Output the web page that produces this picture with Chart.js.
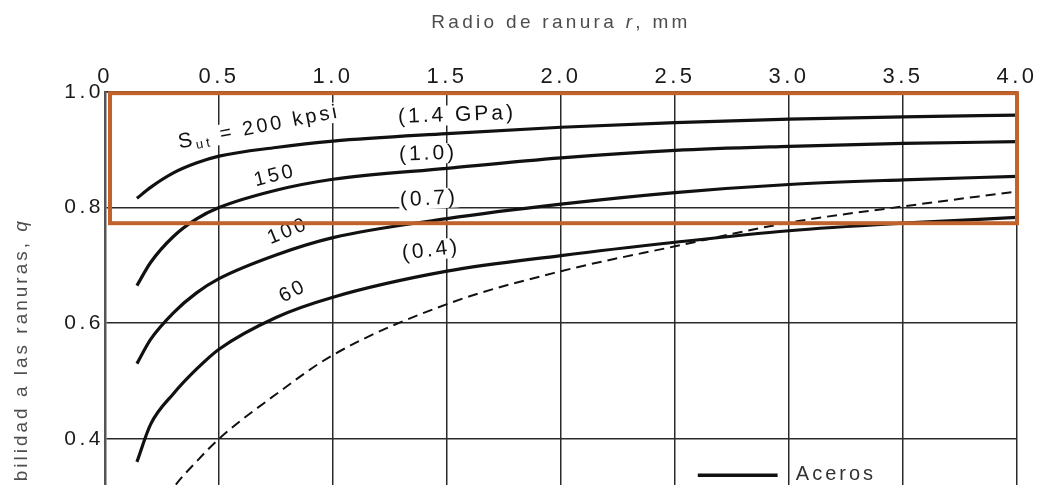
<!DOCTYPE html>
<html lang="es">
<head>
<meta charset="utf-8">
<title>Sensibilidad a las ranuras</title>
<script src="https://cdn.jsdelivr.net/npm/chart.js@4.4.1/dist/chart.umd.min.js"></script>
<style>
  html, body { margin: 0; padding: 0; background: #fff; }
  /* la figura original está recortada por abajo */
  .frame { width: 1039px; height: 485px; overflow: hidden; }
  .chart-box { position: relative; width: 1039px; height: 690px; }
</style>
</head>
<body>
<div class="frame"><div class="chart-box"><canvas id="notchChart"></canvas></div></div>
<script>
// radio de ranura r, mm
const radios = [0.14, 0.2, 0.3, 0.4, 0.5, 0.75, 1.0, 1.5, 2.0, 2.5, 3.0, 3.5, 4.0];

// aceros: Sut = 200, 150, 100, 60 kpsi
const q200 = [0.816, 0.835, 0.860, 0.877, 0.889, 0.904, 0.915, 0.928, 0.939, 0.947, 0.953, 0.957, 0.960];
const q150 = [0.665, 0.705, 0.750, 0.780, 0.800, 0.830, 0.849, 0.868, 0.886, 0.899, 0.906, 0.911, 0.914];
const q100 = [0.530, 0.572, 0.618, 0.652, 0.677, 0.718, 0.748, 0.781, 0.806, 0.826, 0.840, 0.848, 0.854];
const q60 = [0.360, 0.425, 0.478, 0.520, 0.555, 0.610, 0.645, 0.690, 0.717, 0.740, 0.760, 0.773, 0.783];

// aleación de aluminio (discontinua)
const radiosAl = [0.2, 0.3, 0.4, 0.5, 0.75, 1.0, 1.5, 2.0, 2.5, 3.0, 3.5, 4.0];
const qAl = [0.25, 0.315, 0.36, 0.40, 0.477, 0.545, 0.633, 0.690, 0.733, 0.774, 0.802, 0.828];

// marcas de los ejes
const xTicks = [0, 0.5, 1.0, 1.5, 2.0, 2.5, 3.0, 3.5, 4.0];
const xTickLabels = ['0', '0.5', '1.0', '1.5', '2.0', '2.5', '3.0', '3.5', '4.0'];
const yTicks = [0, 0.2, 0.4, 0.6, 0.8, 1.0];
const yTickLabels = ['0', '0.2', '0.4', '0.6', '0.8', '1.0'];

// etiquetas sobre las curvas (posición en unidades de datos)
const curveLabels = [
    { r: 0.675, q: 0.939, angle: -11, parts: [['S', 21], ['ut', 13, 6], [' = 200 kpsi', 20]] },
    { r: 1.544, q: 0.960, angle: -2, parts: [['(1.4 GPa)', 21]] },
    { r: 0.746, q: 0.855, angle: -14, parts: [['150', 20]] },
    { r: 1.417, q: 0.893, angle: -2, parts: [['(1.0)', 21]] },
    { r: 0.803, q: 0.759, angle: -22, parts: [['100', 20]] },
    { r: 1.421, q: 0.815, angle: -3, parts: [['(0.7)', 21]] },
    { r: 0.825, q: 0.655, angle: -27, parts: [['60', 20]] },
    { r: 1.430, q: 0.726, angle: -7, parts: [['(0.4)', 21]] }
];

// recuadro naranja de resaltado
const highlight = { r0: 0.022, r1: 4.0, q0: 0.773, q1: 0.998 };

const FONT = '"Liberation Sans", Arial, sans-serif';
Chart.defaults.font.family = FONT;
Chart.defaults.color = '#1a1a1a';

const toPoints = (xs, ys) => xs.map((x, i) => ({ x: x, y: ys[i] }));

// texto con partes (subíndices, cursiva), centrado y rotado
function drawRich(ctx, parts, cx, cy, angle, opts) {
    ctx.save();
    ctx.translate(cx, cy);
    ctx.rotate(angle * Math.PI / 180);
    ctx.textBaseline = 'middle';
    ctx.textAlign = 'left';
    ctx.letterSpacing = opts.spacing + 'px';
    let total = 0;
    const widths = parts.map(p => {
        ctx.font = (p[3] || '') + ' ' + p[1] + 'px ' + FONT;
        const w = ctx.measureText(p[0]).width;
        total += w;
        return w;
    });
    if (opts.bg) {
        ctx.fillStyle = '#fff';
        ctx.fillRect(-total / 2 - 1, -10, total + 2, 20);
    } else {
        let x = -total / 2;
        ctx.fillStyle = opts.color;
        parts.forEach((p, i) => {
            ctx.font = (p[3] || '') + ' ' + p[1] + 'px ' + FONT;
            ctx.fillText(p[0], x, p[2] || 0);
            x += widths[i];
        });
    }
    ctx.restore();
}

const spacingPlugin = {
    id: 'spacing',
    beforeDraw(chart) { chart.ctx.letterSpacing = '3.5px'; }
};

const labelsPlugin = {
    id: 'curveLabels',
    beforeDatasetsDraw(chart) {
        const { ctx, scales } = chart;
        curveLabels.forEach(l => drawRich(ctx, l.parts, scales.x.getPixelForValue(l.r), scales.y.getPixelForValue(l.q), l.angle, { spacing: 3, bg: true }));
    },
    afterDatasetsDraw(chart) {
        const { ctx, scales } = chart;
        curveLabels.forEach(l => drawRich(ctx, l.parts, scales.x.getPixelForValue(l.r), scales.y.getPixelForValue(l.q), l.angle, { spacing: 3, color: '#111' }));
    }
};

const extrasPlugin = {
    id: 'extras',
    afterDraw(chart) {
        const { ctx, scales, chartArea } = chart;
        const x = scales.x, y = scales.y;

        // títulos de los ejes
        drawRich(ctx, [['Radio de ranura ', 19], ['r', 19, 0, 'italic'], [', mm', 19]],
            (chartArea.left + chartArea.right) / 2, 23, 0, { spacing: 3.3, color: '#4d4d4d' });
        drawRich(ctx, [['Sensibilidad a las ranuras, ', 19], ['q', 19, 0, 'italic']],
            22, (chartArea.top + chartArea.bottom) / 2, -90, { spacing: 3, color: '#4d4d4d' });

        // leyenda
        ctx.save();
        ctx.strokeStyle = '#111';
        ctx.lineWidth = 3.5;
        ctx.beginPath();
        ctx.moveTo(x.getPixelForValue(2.6), y.getPixelForValue(0.337));
        ctx.lineTo(x.getPixelForValue(2.95), y.getPixelForValue(0.337));
        ctx.stroke();
        ctx.restore();
        ctx.save();
        ctx.letterSpacing = '3px';
        ctx.font = '20px ' + FONT;
        ctx.fillStyle = '#333';
        ctx.textBaseline = 'middle';
        ctx.fillText('Aceros', x.getPixelForValue(3.03), y.getPixelForValue(0.339));
        ctx.restore();

        // recuadro naranja
        ctx.save();
        ctx.strokeStyle = '#C0622B';
        ctx.lineWidth = 4;
        const left = x.getPixelForValue(highlight.r0), right = x.getPixelForValue(highlight.r1);
        const top = y.getPixelForValue(highlight.q1), bottom = y.getPixelForValue(highlight.q0);
        ctx.strokeRect(left, top, right - left, bottom - top);
        ctx.restore();
    }
};

const steelStyle = { borderColor: '#111', borderWidth: 3.2, pointRadius: 0, fill: false, cubicInterpolationMode: 'monotone' };

new Chart(document.getElementById('notchChart'), {
    type: 'line',
    data: {
        datasets: [
            { label: 'Sut = 200 kpsi (1.4 GPa)', data: toPoints(radios, q200), ...steelStyle },
            { label: 'Sut = 150 kpsi (1.0 GPa)', data: toPoints(radios, q150), ...steelStyle },
            { label: 'Sut = 100 kpsi (0.7 GPa)', data: toPoints(radios, q100), ...steelStyle },
            { label: 'Sut = 60 kpsi (0.4 GPa)', data: toPoints(radios, q60), ...steelStyle },
            { label: 'Aleación de aluminio', data: toPoints(radiosAl, qAl), borderColor: '#111', borderWidth: 2, borderDash: [10, 6], pointRadius: 0, fill: false, cubicInterpolationMode: 'monotone' }
        ]
    },
    options: {
        responsive: true,
        maintainAspectRatio: false,
        animation: false,
        layout: { padding: { left: 0, right: 22, top: 0, bottom: 20 } },
        plugins: { legend: { display: false }, tooltip: { enabled: false } },
        scales: {
            x: {
                type: 'linear',
                position: 'top',
                min: 0,
                max: 4,
                afterBuildTicks: s => { s.ticks = xTicks.map(v => ({ value: v })); },
                afterFit: s => { s.height = 92; },
                ticks: { callback: (v, i) => xTickLabels[i], font: { size: 22 }, padding: 2, color: '#1a1a1a' },
                grid: { color: '#2a2a2a', lineWidth: 1.5, drawTicks: false },
                border: { color: '#2a2a2a', width: 1.5 }
            },
            y: {
                type: 'linear',
                min: 0,
                max: 1,
                afterBuildTicks: s => { s.ticks = yTicks.map(v => ({ value: v })); },
                afterFit: s => { s.width = 105; },
                ticks: { callback: (v, i) => yTickLabels[i], font: { size: 21 }, padding: 1, color: '#1a1a1a' },
                grid: { color: '#2a2a2a', lineWidth: 1.5, drawTicks: false },
                border: { color: '#555', width: 2.5 }
            }
        }
    },
    plugins: [spacingPlugin, labelsPlugin, extrasPlugin]
});
</script>
</body>
</html>
